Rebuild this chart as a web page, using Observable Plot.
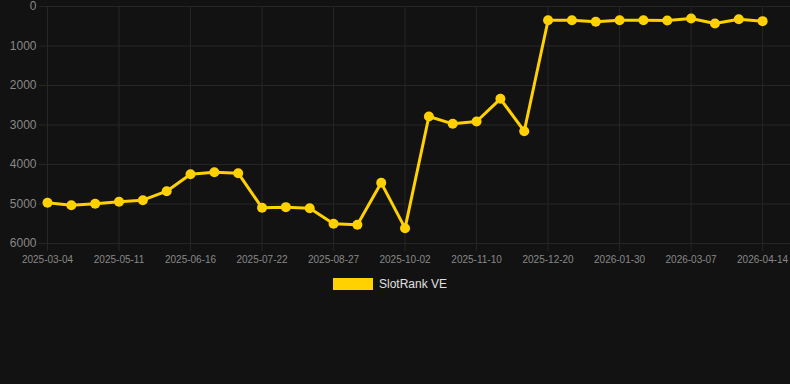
<!DOCTYPE html>
<html>
<head>
<meta charset="utf-8">
<script src="https://cdn.jsdelivr.net/npm/d3@7"></script>
<script src="https://cdn.jsdelivr.net/npm/@observablehq/plot@0.6"></script>
<style>
  html, body { margin: 0; padding: 0; background: #121212; }
  body { width: 790px; height: 384px; overflow: hidden; font-family: "Liberation Sans", Arial, sans-serif; }
  #legend { display: flex; align-items: center; padding-left: 333px; margin-top: 6px; height: 12px; }
  #legend .sw { width: 40px; height: 12px; background: #ffd100; }
  #legend .lb { margin-left: 6px; font-size: 12px; color: #e0e0e0; line-height: 12px; }
</style>
</head>
<body>
<div id="chart"></div>
<div id="legend"></div>
<script>
const dates = ["2025-03-04","2025-03-27","2025-04-19","2025-05-11","2025-05-23","2025-06-04","2025-06-16","2025-06-28","2025-07-10","2025-07-22","2025-08-03","2025-08-15","2025-08-27","2025-09-08","2025-09-20","2025-10-02","2025-10-15","2025-10-28","2025-11-10","2025-11-23","2025-12-06","2025-12-20","2026-01-02","2026-01-16","2026-01-30","2026-02-11","2026-02-23","2026-03-07","2026-03-20","2026-04-02","2026-04-14"];
const ranks = [4970,5030,4995,4945,4903,4675,4245,4195,4220,5096,5080,5106,5502,5527,4464,5612,2785,2970,2911,2337,3157,347,347,388,347,347,355,304,430,321,371];
const yTicks = [0,1000,2000,3000,4000,5000,6000];
const labelEvery = 3;
const seriesName = "SlotRank VE";

const data = dates.map((d, i) => ({i, date: d, rank: ranks[i]}));
const xTicks = dates.map((d, i) => i).filter(i => i % labelEvery === 0);
const gridColor = "#262626";
const textColor = "#888888";
const lineColor = "#ffd100";

const chart = Plot.plot({
  width: 790,
  height: 272,
  marginLeft: 47,
  marginRight: 0,
  marginTop: 6,
  marginBottom: 29,
  style: {background: "#121212", color: textColor, fontFamily: "'Liberation Sans', Arial, sans-serif", fontSize: "10px"},
  x: {type: "linear", domain: [0, 31.17]},
  y: {domain: [0, 6000], reverse: true},
  marks: [
    Plot.gridY(yTicks, {stroke: gridColor, strokeOpacity: 1}),
    Plot.gridX(xTicks, {stroke: gridColor, strokeOpacity: 1}),
    Plot.axisY(yTicks, {tickSize: 8, color: gridColor, text: null, label: null}),
    Plot.axisY(yTicks, {tickSize: 0, tickPadding: 11, fill: textColor, fontSize: 12, label: null, tickFormat: d => String(d)}),
    Plot.axisX(xTicks, {tickSize: 8, color: gridColor, text: null, label: null}),
    Plot.axisX(xTicks, {tickSize: 0, tickPadding: 12, fill: textColor, fontSize: 10, label: null, tickFormat: i => dates[i]}),
    Plot.line(data, {x: "i", y: "rank", stroke: lineColor, strokeWidth: 3}),
    Plot.dot(data, {x: "i", y: "rank", r: 5, fill: lineColor})
  ]
});
document.getElementById("chart").appendChild(chart);
document.getElementById("legend").innerHTML = `<div class="sw"></div><div class="lb">${seriesName}</div>`;
</script>
</body>
</html>
